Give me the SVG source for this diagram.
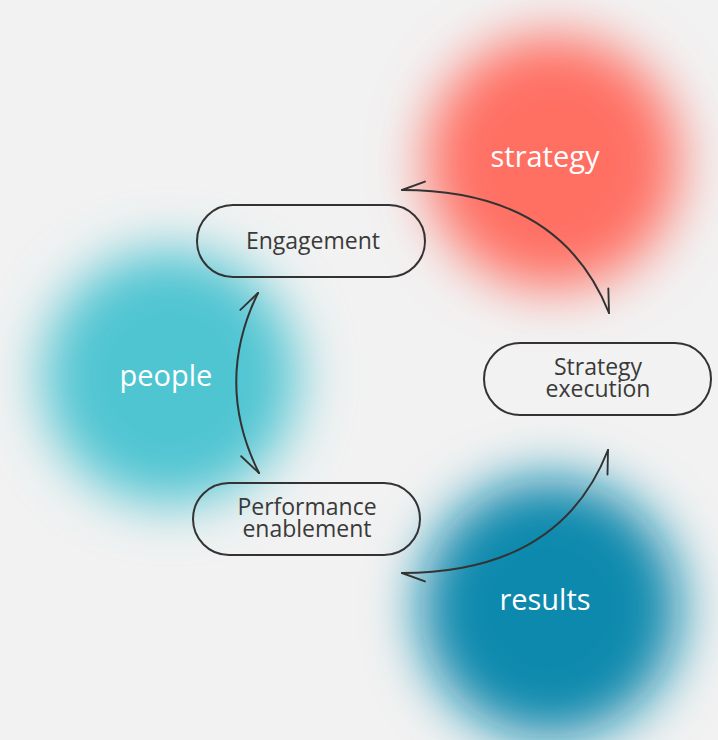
<svg xmlns="http://www.w3.org/2000/svg" width="718" height="740" viewBox="0 0 718 740">
<defs>
<filter id="blur" x="-60%" y="-60%" width="220%" height="220%"><feGaussianBlur stdDeviation="27"/></filter>
<marker id="barbA" markerUnits="userSpaceOnUse" orient="auto-start-reverse" refX="0" refY="0" markerWidth="30" markerHeight="30" viewBox="-30 -15 32 30" overflow="visible"><path d="M0,0 L-24.5,-9" fill="none" stroke="#333" stroke-width="2" stroke-linecap="round"/></marker>
<marker id="barbB" markerUnits="userSpaceOnUse" orient="auto-start-reverse" refX="0" refY="0" markerWidth="30" markerHeight="30" viewBox="-30 -15 32 30" overflow="visible"><path d="M0,0 L-24.5,9" fill="none" stroke="#333" stroke-width="2" stroke-linecap="round"/></marker>
</defs>
<style>
.pill{fill:none;stroke:#333;stroke-width:2}
.nt{font-family:"Open Sans","Liberation Sans",sans-serif;font-size:23px;fill:#3a3a3a;text-anchor:middle}
.bt{font-family:"Open Sans","Liberation Sans",sans-serif;font-size:29px;fill:#ffffff;text-anchor:middle}
.conn{fill:none;stroke:#333;stroke-width:2;stroke-linecap:round}
</style>
<rect width="718" height="740" fill="#f2f2f2"/>
<g id="blobs" filter="url(#blur)">
<circle cx="553" cy="162" r="127" fill="#ff6f63"/>
<circle cx="170" cy="377" r="127" fill="#50c5d2"/>
<circle cx="550" cy="608" r="130" fill="#0889ad"/>
</g>
<g id="blob-labels">
<text class="bt" x="545" y="167">strategy</text>
<text class="bt" x="166" y="386">people</text>
<text class="bt" x="545" y="610">results</text>
</g>
<g id="connectors">
<path class="conn" d="M402,190 Q560,190 609,313" marker-start="url(#barbB)" marker-end="url(#barbA)"/>
<path class="conn" d="M258,293 Q214,383 259,473" marker-start="url(#barbA)" marker-end="url(#barbB)"/>
<path class="conn" d="M608,450 Q560,573 402,573" marker-start="url(#barbB)" marker-end="url(#barbA)"/>
</g>
<g id="engagement">
<rect class="pill" x="197" y="205" width="228" height="72" rx="36"/>
<text class="nt" x="313" y="249">Engagement</text>
</g>
<g id="strategy-execution">
<rect class="pill" x="484" y="343" width="227" height="72" rx="36"/>
<text class="nt" x="598" y="375">Strategy</text>
<text class="nt" x="598" y="397">execution</text>
</g>
<g id="performance-enablement">
<rect class="pill" x="193" y="483" width="227" height="72" rx="36"/>
<text class="nt" x="307" y="515">Performance</text>
<text class="nt" x="307" y="537">enablement</text>
</g>
</svg>
